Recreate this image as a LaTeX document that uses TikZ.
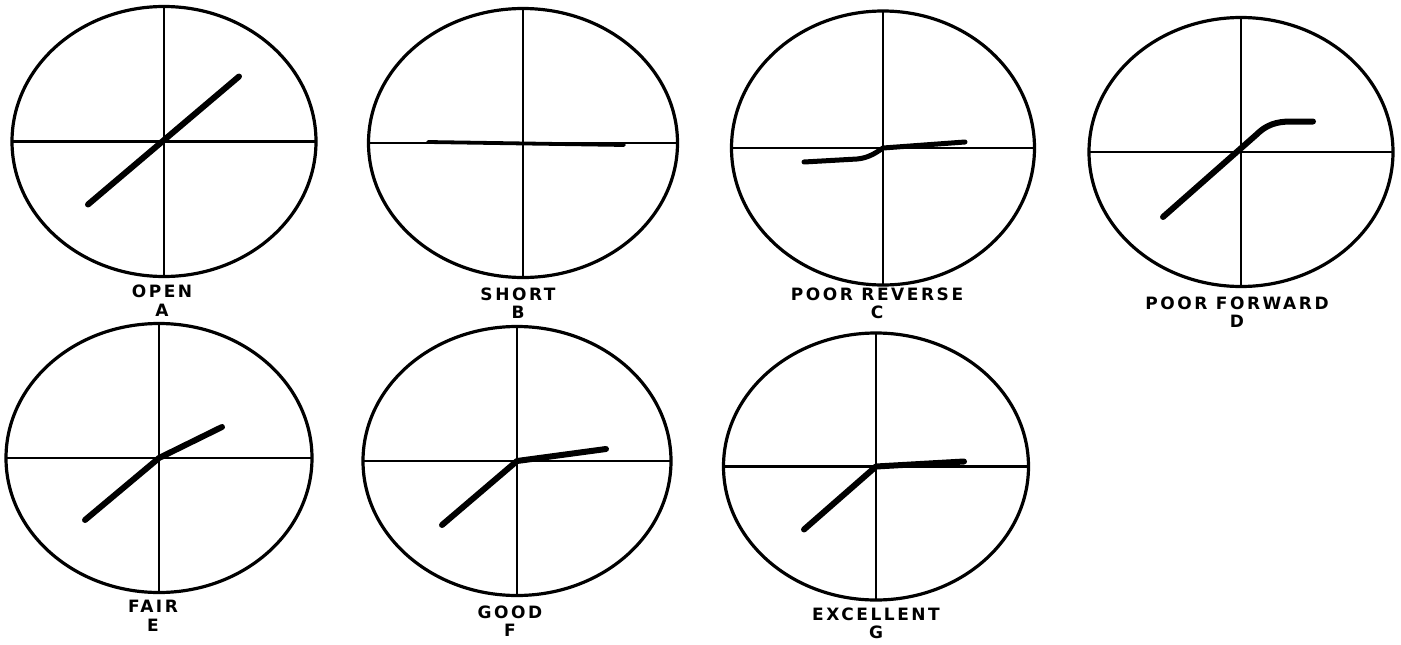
\documentclass[tikz,border=0pt]{standalone}
\usepackage{fontspec}
\setmainfont{Liberation Sans}
\newfontfamily\capfont{DejaVu Sans}[LetterSpace=15]

\tikzset{
  screen/.style={line width=3.2pt},
  graticule/.style={line width=2.2pt},
  trace/.style={line width=6pt,line cap=round,line join=round},
  caption/.style={font=\capfont\bfseries\fontsize{17}{18.5}\selectfont,
    align=center,inner sep=0pt}
}

\begin{document}
\begin{tikzpicture}[x=1pt,y=-1pt]
\useasboundingbox (0,0) rectangle (1401,645);
% scope faces: name / centre / radii
\foreach \n/\cx/\cy/\rx/\ry in {A/164/141.5/152/135,B/523/143/154.5/134.5,
    C/883/148/151.5/137,D/1241/152/152/134.5,E/159/458/153/134.5,
    F/517/461/154/134.5,G/876/466.5/152.5/133.5}{
  \coordinate (o\n) at (\cx,\cy);
  \draw[screen] (o\n) ellipse [x radius=\rx pt,y radius=\ry pt];
  \draw[graticule] ({\cx},{\cy-\ry}) -- ({\cx},{\cy+\ry});
  \draw[graticule] ({\cx-\rx},{\cy}) -- ({\cx+\rx},{\cy});
}
% captions
\foreach \n/\x/\y/\t in {A/162/300.5/OPEN,B/518/303/SHORT,C/877/303.5/POOR REVERSE,
    D/1237/312/POOR FORWARD,E/153/616/FAIR,F/510/621/GOOD,G/876/623.5/EXCELLENT}
  \node[caption] (cap\n) at (\x,\y) {\t\\\n};
% traces, relative to each centre
\draw[trace,shift={(oA)}] (-76,63) -- (75,-65);
\draw[trace,line width=3.8pt,shift={(oB)}] (-95,-1) -- (101,2);
\draw[trace,line width=5pt,shift={(oC)}] (-79,14) -- (-26,11)
  .. controls (-14,10) and (-6,4) .. (0,0) -- (82,-6);
\draw[trace,shift={(oD)}] (-78,65) -- (15,-17)
  .. controls (25,-27) and (35,-30.5) .. (50,-30.5) -- (72,-30.5);
\draw[trace,shift={(oE)}] (-74,62) -- (0,0) -- (63,-31);
\draw[trace,shift={(oF)}] (-75,64) -- (0,0) -- (89,-12);
\draw[trace,shift={(oG)}] (-72,63) -- (0,0) -- (88,-5);
\end{tikzpicture}
\end{document}
